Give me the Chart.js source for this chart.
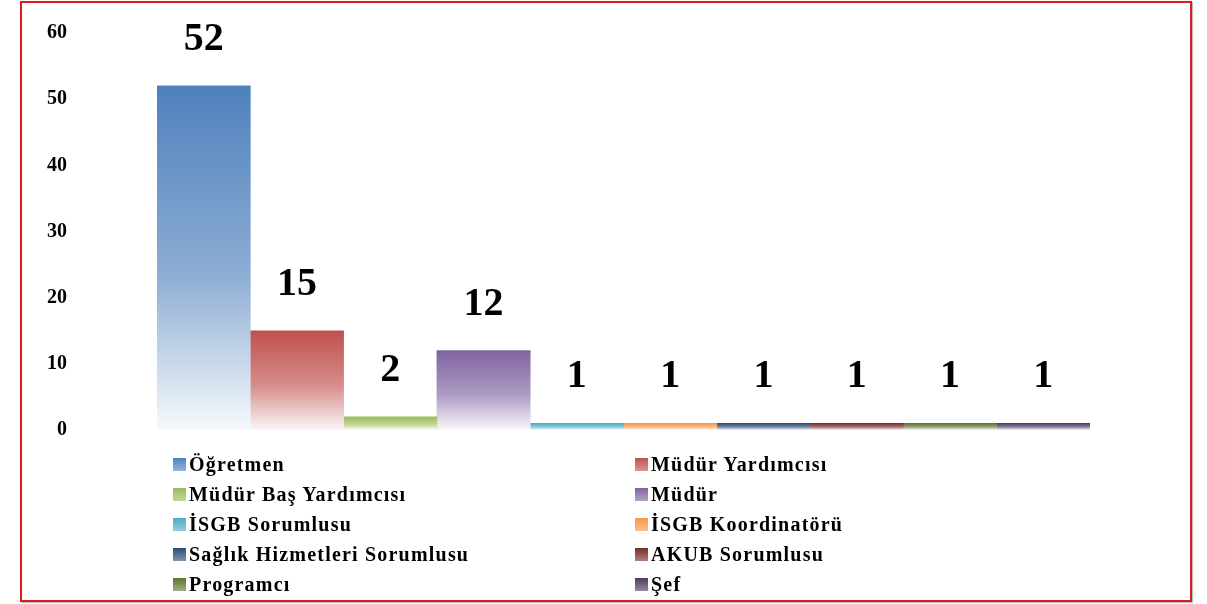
<!DOCTYPE html>
<html>
<head>
<meta charset="utf-8">
<script src="https://cdn.jsdelivr.net/npm/chart.js@4.4.0/dist/chart.umd.min.js"></script>
<style>
    html, body { margin: 0; padding: 0; background: #fff; }
    #wrap { position: relative; width: 1207px; height: 604px; overflow: hidden; }
    #chart { position: absolute; left: 0; top: 0; }
    #frame {
        position: absolute; left: 20px; top: 1px; width: 1168px; height: 597px;
        border: 2px solid #dc1a1f; box-shadow: 1px 1px 1px rgba(0,0,0,0.25);
        pointer-events: none;
    }
    #legend {
        position: absolute; left: 173px; top: 449px; width: 900px;
        display: grid; grid-template-columns: 462px 400px; grid-auto-rows: 30px;
        font-family: "Liberation Serif", "Times New Roman", serif;
        font-weight: bold; font-size: 20px; letter-spacing: 1.2px; color: #000;
    }
    #legend .item { display: flex; align-items: center; white-space: nowrap; }
    #legend .box { width: 13px; height: 13px; margin-right: 3px; flex: none; }
</style>
</head>
<body>
<div id="wrap">
    <canvas id="chart" width="1207" height="604"></canvas>
    <div id="legend"></div>
    <div id="frame"></div>
</div>
<script>
    // Chart data
    const categories = ['Görev'];
    const seriesNames = ['Öğretmen', 'Müdür Yardımcısı', 'Müdür Baş Yardımcısı', 'Müdür',
        'İSGB Sorumlusu', 'İSGB Koordinatörü', 'Sağlık Hizmetleri Sorumlusu',
        'AKUB Sorumlusu', 'Programcı', 'Şef'];
    const seriesValues = [52, 15, 2, 12, 1, 1, 1, 1, 1, 1];
    const yTicks = [0, 10, 20, 30, 40, 50, 60];
    const seriesColors = ['#4f81bd', '#c0504d', '#9bbb59', '#8064a2', '#4bacc6',
        '#f79646', '#2c4d75', '#772c2a', '#5f7530', '#4d3b62'];

    function lighten(hex, t) {
        const n = parseInt(hex.slice(1), 16);
        const r = (n >> 16) & 255, g = (n >> 8) & 255, b = n & 255;
        const mix = c => Math.round(c + (255 - c) * t);
        return 'rgb(' + mix(r) + ',' + mix(g) + ',' + mix(b) + ')';
    }

    function barFill(color) {
        return function (ctx) {
            const chart = ctx.chart;
            if (!chart.chartArea || ctx.raw === undefined) return color;
            const y = chart.scales.y;
            const top = y.getPixelForValue(ctx.raw);
            const base = y.getPixelForValue(0);
            if (base - top < 2) return color;
            const g = chart.ctx.createLinearGradient(0, top, 0, base);
            g.addColorStop(0, color);
            g.addColorStop(0.55, lighten(color, 0.35));
            g.addColorStop(0.85, lighten(color, 0.75));
            g.addColorStop(1, lighten(color, 0.95));
            return g;
        };
    }

    // Value labels above bars
    const valueLabels = {
        id: 'valueLabels',
        afterDatasetsDraw(chart) {
            const c = chart.ctx;
            c.save();
            c.font = 'bold 40px "Liberation Serif", "Times New Roman", serif';
            c.fillStyle = '#000';
            c.textAlign = 'center';
            c.textBaseline = 'alphabetic';
            chart.data.datasets.forEach((ds, i) => {
                const meta = chart.getDatasetMeta(i);
                meta.data.forEach((bar, j) => {
                    c.fillText(ds.data[j], bar.x, bar.y - 36);
                });
            });
            c.restore();
        }
    };

    const chart = new Chart(document.getElementById('chart'), {
        type: 'bar',
        data: {
            labels: categories,
            datasets: seriesNames.map((name, i) => ({
                label: name,
                data: [seriesValues[i]],
                backgroundColor: barFill(seriesColors[i]),
                borderWidth: 0,
                categoryPercentage: 1,
                barPercentage: 1
            }))
        },
        options: {
            responsive: false,
            animation: false,
            layout: { padding: { left: 30, right: 117, top: 33, bottom: 174 } },
            plugins: {
                legend: { display: false },
                tooltip: { enabled: false }
            },
            scales: {
                x: { display: false },
                y: {
                    min: 0,
                    max: 60,
                    afterFit: function (scale) {
                        scale.width = 127;
                        scale.paddingTop = 0;
                        scale.paddingBottom = 0;
                    },
                    afterBuildTicks: function (scale) {
                        scale.ticks = yTicks.map(v => ({ value: v }));
                    },
                    grid: { display: false, drawTicks: false },
                    border: { display: false },
                    ticks: {
                        padding: 90,
                        color: '#000',
                        font: { family: '"Liberation Serif", "Times New Roman", serif', weight: 'bold', size: 20 }
                    }
                }
            }
        },
        plugins: [valueLabels]
    });

    // Two-column legend
    const legendEl = document.getElementById('legend');
    seriesNames.forEach((name, i) => {
        const item = document.createElement('div');
        item.className = 'item';
        const box = document.createElement('span');
        box.className = 'box';
        box.style.background = 'linear-gradient(' + seriesColors[i] + ', ' + lighten(seriesColors[i], 0.4) + ')';
        const txt = document.createElement('span');
        txt.textContent = name;
        item.appendChild(box);
        item.appendChild(txt);
        legendEl.appendChild(item);
    });
</script>
</body>
</html>
